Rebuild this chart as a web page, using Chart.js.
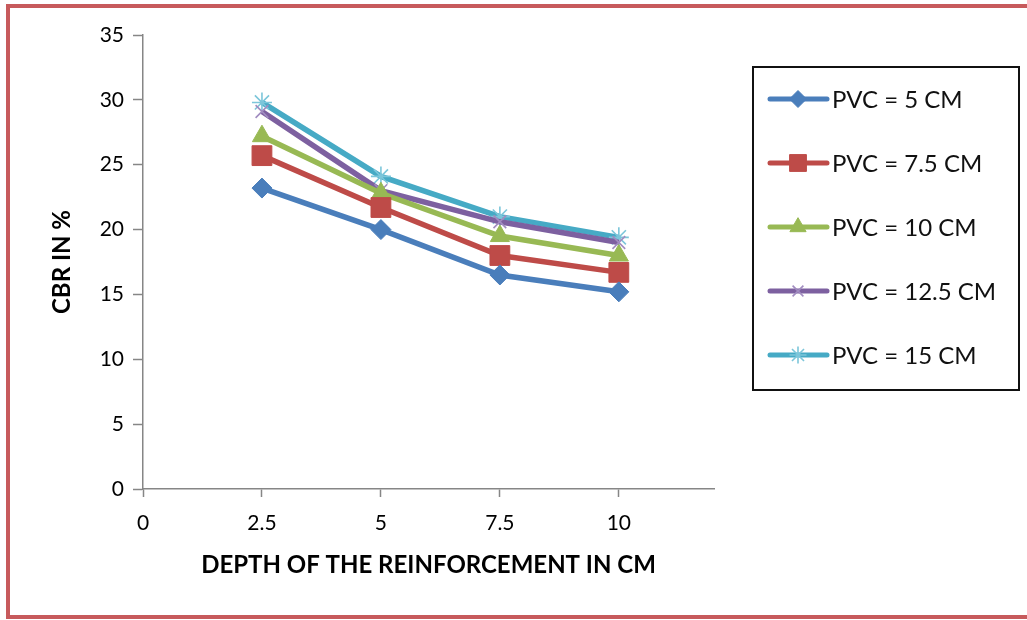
<!DOCTYPE html>
<html>
<head>
<meta charset="utf-8">
<script src="https://cdn.jsdelivr.net/npm/chart.js@4.4.0/dist/chart.umd.min.js"></script>
<style>
  html, body { margin: 0; padding: 0; background: #fff; overflow: hidden; }
  #frame { position: absolute; left: 6px; top: 4px; width: 1060px; height: 615px; border: 4px solid #c75a5c; box-sizing: border-box; }
  #wrap { position: absolute; left: 0; top: 0; width: 1027px; height: 620px; }
</style>
</head>
<body>
<div id="frame"></div>
<div id="wrap"><canvas id="cbrChart" width="1027" height="620"></canvas></div>
<script>
// depth of reinforcement (cm) and CBR (%) per PVC length
var depths = [2.5, 5, 7.5, 10];
var pvc5 = [23.2, 20.0, 16.5, 15.2];
var pvc75 = [25.7, 21.7, 18.0, 16.7];
var pvc10 = [27.2, 22.8, 19.5, 18.0];
var pvc125 = [29.1, 23.0, 20.6, 19.0];
var pvc15 = [29.8, 24.1, 21.0, 19.4];
var seriesNames = ['PVC = 5 CM', 'PVC = 7.5 CM', 'PVC = 10 CM', 'PVC = 12.5 CM', 'PVC = 15 CM'];
var xTicks = [0, 2.5, 5, 7.5, 10];
var yTicks = [0, 5, 10, 15, 20, 25, 30, 35];

var FONT = 'Lato, "Open Sans", sans-serif';

function pts(values) {
    return values.map(function (v, i) { return { x: depths[i], y: v }; });
}

function series(label, values, color, style, radius, markerBorder) {
    return {
        label: label,
        data: pts(values),
        showLine: true,
        borderColor: color,
        backgroundColor: color,
        borderWidth: 5.5,
        pointStyle: style,
        pointRadius: radius,
        pointBackgroundColor: color,
        pointBorderColor: markerBorder || color,
        pointBorderWidth: markerBorder ? 1.6 : 1,
        tension: 0
    };
}

var legendBox = {
    id: 'legendBox',
    afterDraw: function (chart) {
        var ctx = chart.ctx;
        ctx.save();
        ctx.strokeStyle = '#111';
        ctx.lineWidth = 2;
        ctx.strokeRect(753, 67, 266, 323);
        chart.data.datasets.forEach(function (ds, i) {
            var y = 99 + i * 64;
            ctx.strokeStyle = ds.borderColor;
            ctx.lineWidth = 5;
            ctx.lineCap = 'round';
            ctx.beginPath();
            ctx.moveTo(770, y);
            ctx.lineTo(827, y);
            ctx.stroke();
            ctx.lineCap = 'butt';
            ctx.fillStyle = ds.pointBackgroundColor;
            ctx.strokeStyle = ds.pointBorderColor;
            ctx.lineWidth = ds.pointBorderWidth;
            Chart.helpers.drawPoint(ctx, {
                pointStyle: ds.pointStyle,
                radius: ds.pointRadius * 0.85,
                borderWidth: ds.pointBorderWidth,
                rotation: 0
            }, 798, y);
            ctx.fillStyle = '#111';
            ctx.font = '24px ' + FONT;
            ctx.textBaseline = 'middle';
            ctx.textAlign = 'left';
            ctx.fillText(ds.label, 832, y + 1);
        });
        ctx.restore();
    }
};

document.addEventListener('DOMContentLoaded', function () {
    var ctx = document.getElementById('cbrChart').getContext('2d');
    new Chart(ctx, {
        type: 'scatter',
        data: {
            datasets: [
                series(seriesNames[0], pvc5, '#4a7ebb', 'rectRot', 10),
                series(seriesNames[1], pvc75, '#be4b48', 'rect', 14),
                series(seriesNames[2], pvc10, '#98b954', 'triangle', 11),
                series(seriesNames[3], pvc125, '#7d60a0', 'crossRot', 9, '#a18cc0'),
                series(seriesNames[4], pvc15, '#46aac5', 'star', 10, '#7cc6da')
            ]
        },
        options: {
            responsive: false,
            animation: false,
            events: [],
            layout: { padding: { top: 35, right: 313, left: 0, bottom: 0 } },
            plugins: {
                legend: { display: false },
                tooltip: { enabled: false }
            },
            scales: {
                x: {
                    type: 'linear',
                    min: 0,
                    max: 12,
                    afterBuildTicks: function (scale) {
                        scale.ticks = xTicks.map(function (v) { return { value: v }; });
                    },
                    afterFit: function (scale) { scale.height = 131; },
                    ticks: {
                        color: '#000',
                        font: { family: FONT, size: 21 },
                        padding: 14,
                        maxRotation: 0,
                        callback: function (v) { return String(v); }
                    },
                    grid: { drawOnChartArea: false, color: '#868686', tickLength: 8, tickWidth: 1.5 },
                    border: { color: '#868686', width: 1.5 },
                    title: {
                        display: true,
                        text: 'DEPTH OF THE REINFORCEMENT IN CM',
                        color: '#000',
                        font: { family: FONT, size: 24, weight: 'bold' },
                        padding: { top: 0, bottom: 40 }
                    }
                },
                y: {
                    min: 0,
                    max: 35,
                    afterBuildTicks: function (scale) {
                        scale.ticks = yTicks.map(function (v) { return { value: v }; });
                    },
                    afterFit: function (scale) { scale.width = 143; },
                    ticks: {
                        color: '#000',
                        font: { family: FONT, size: 21 },
                        padding: 9
                    },
                    grid: { drawOnChartArea: false, color: '#868686', tickLength: 10, tickWidth: 1.5 },
                    border: { color: '#868686', width: 1.5 },
                    title: {
                        display: true,
                        text: 'CBR IN %',
                        color: '#000',
                        font: { family: FONT, size: 24, weight: 'bold' },
                        padding: { top: 48, bottom: 0 }
                    }
                }
            }
        },
        plugins: [legendBox]
    });
});
</script>
</body>
</html>
